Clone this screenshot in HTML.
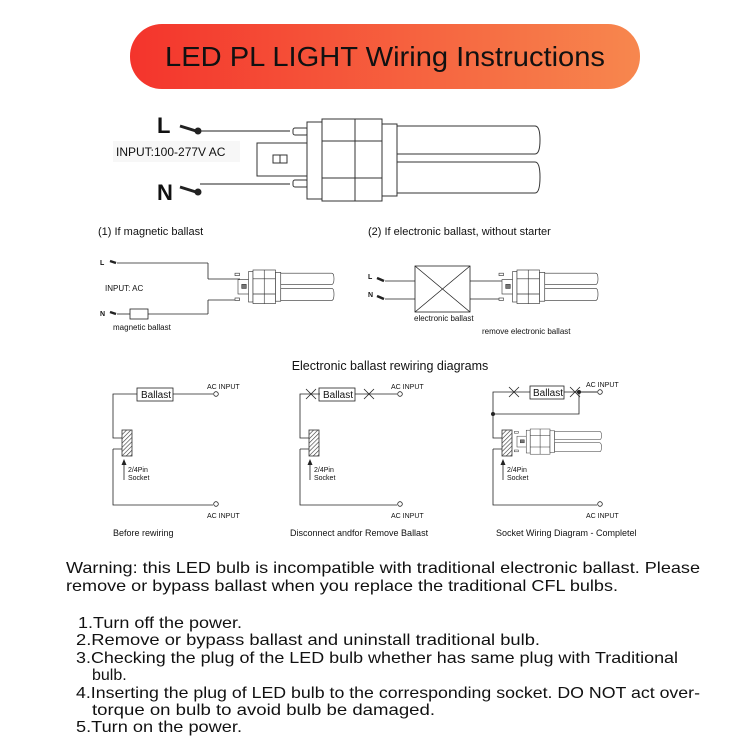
<!DOCTYPE html>
<html><head><meta charset="utf-8"><style>
html,body{margin:0;padding:0;background:#fff}
svg{display:block}
text{font-family:"Liberation Sans",Arial,sans-serif;fill:#111}
</style></head><body>
<svg width="750" height="750" viewBox="0 0 750 750" xmlns="http://www.w3.org/2000/svg">
<defs>
<linearGradient id="g" x1="0" x2="1" y1="0" y2="0"><stop offset="0" stop-color="#f4342c"/><stop offset="1" stop-color="#f7874e"/></linearGradient>
<pattern id="h" width="3" height="3" patternUnits="userSpaceOnUse" patternTransform="rotate(45)"><line x1="0" y1="0" x2="0" y2="3" stroke="#333" stroke-width="1.2"/></pattern>
<g id="bulb" fill="#fff" stroke="#333" stroke-width="0.8">
 <rect x="0" y="12" width="16" height="18"/>
 <rect x="-4" y="4" width="6" height="3"/><rect x="-4" y="35" width="6" height="3"/>
 <rect x="14" y="2" width="6" height="38"/>
 <rect x="20" y="0" width="30" height="42"/>
 <line x1="35" y1="0" x2="35" y2="42"/><line x1="20" y1="11" x2="50" y2="11"/><line x1="20" y1="30" x2="50" y2="30"/>
 <rect x="50" y="3" width="7" height="36"/>
 <path d="M57 4 H125 Q128 4 128 11 Q128 18 125 18 H57 Z"/>
 <path d="M57 23 H125 Q128 23 128 30 Q128 38 125 38 H57 Z"/>
 <rect x="5" y="18" width="6" height="5" fill="#777"/>
</g>
<g id="sock"><rect x="0" y="0" width="10" height="26" fill="url(#h)" stroke="#333" stroke-width="0.8"/></g>
</defs>

<rect x="130" y="24" width="510" height="65" rx="32" fill="url(#g)"/>
<text x="385" y="66" font-size="28" text-anchor="middle" textLength="440" lengthAdjust="spacingAndGlyphs">LED PL LIGHT Wiring Instructions</text>

<g stroke="#222" stroke-width="1" fill="none">
<text x="157" y="133" font-size="22" font-weight="bold" stroke="none">L</text>
<text x="157" y="200" font-size="22" font-weight="bold" stroke="none">N</text>
<path d="M180 126 L196 131" stroke-width="3"/><circle cx="198" cy="131" r="3" fill="#222"/>
<path d="M180 187 L196 192" stroke-width="3"/><circle cx="198" cy="192" r="3" fill="#222"/>
<line x1="200" y1="131" x2="290" y2="131"/><line x1="200" y1="184" x2="290" y2="184"/>
<rect x="113" y="141" width="127" height="21" fill="#f7f7f7" stroke="none"/>
</g>
<text x="116" y="156" font-size="12">INPUT:100-277V AC</text>
<g fill="#fff" stroke="#333" stroke-width="1">
 <rect x="257" y="143" width="50" height="33"/>
 <rect x="293" y="128" width="15" height="7" rx="2"/><rect x="293" y="180" width="15" height="7" rx="2"/>
 <rect x="307" y="122" width="15" height="77"/>
 <rect x="322" y="119" width="60" height="82"/>
 <line x1="355" y1="119" x2="355" y2="201"/><line x1="322" y1="141" x2="382" y2="141"/><line x1="322" y1="178" x2="382" y2="178"/>
 <rect x="382" y="124" width="15" height="72"/>
 <path d="M397 126 H535 Q540 126 540 140 Q540 154 535 154 H397 Z"/>
 <path d="M397 162 H535 Q540 162 540 177 Q540 193 535 193 H397 Z"/>
 <rect x="273" y="155" width="14" height="8" fill="#fff"/><line x1="280" y1="155" x2="280" y2="163"/>
</g>

<text x="98" y="235" font-size="11">(1) If magnetic ballast</text>
<text x="368" y="235" font-size="11">(2) If electronic ballast, without starter</text>
<g stroke="#222" stroke-width="0.8" fill="none">
 <text x="100" y="265" font-size="7" stroke="none" font-weight="bold">L</text>
 <path d="M110 261 L116 263" stroke-width="2.5"/>
 <line x1="117" y1="263" x2="208" y2="263"/><line x1="208" y1="263" x2="208" y2="279"/><line x1="208" y1="279" x2="240" y2="279"/>
 <text x="100" y="316" font-size="7" stroke="none" font-weight="bold">N</text>
 <path d="M110 312 L116 314" stroke-width="2.5"/>
 <line x1="117" y1="314" x2="130" y2="314"/><rect x="130" y="309" width="18" height="10"/>
 <line x1="148" y1="314" x2="208" y2="314"/><line x1="208" y1="314" x2="208" y2="300"/><line x1="208" y1="300" x2="240" y2="300"/>
 <text x="368" y="279" font-size="7" stroke="none" font-weight="bold">L</text>
 <path d="M377 278 L384 281" stroke-width="2.5"/><line x1="385" y1="281" x2="415" y2="281"/>
 <text x="368" y="297" font-size="7" stroke="none" font-weight="bold">N</text>
 <path d="M377 296 L384 299" stroke-width="2.5"/><line x1="385" y1="299" x2="415" y2="299"/>
 <rect x="415" y="266" width="55" height="46"/><line x1="415" y1="266" x2="470" y2="312"/><line x1="470" y1="266" x2="415" y2="312"/>
 <line x1="470" y1="281" x2="503" y2="281"/><line x1="470" y1="299" x2="503" y2="299"/>
</g>
<text x="105" y="291" font-size="8">INPUT: AC</text>
<text x="113" y="330" font-size="8">magnetic ballast</text>
<text x="414" y="321" font-size="8">electronic ballast</text>
<text x="482" y="334" font-size="8">remove electronic ballast</text>
<use href="#bulb" transform="translate(238,270) scale(0.75,0.8)"/>
<use href="#bulb" transform="translate(502,270) scale(0.75,0.8)"/>

<text x="390" y="370" font-size="12.5" text-anchor="middle">Electronic ballast rewiring diagrams</text>

<g stroke="#222" stroke-width="0.8" fill="none">
 <path d="M137 394 H113 V438 H122 M113 449 H122 M113 449 V505 H213"/>
 <rect x="137" y="388" width="36" height="13"/><line x1="173" y1="394" x2="213" y2="394"/>
 <circle cx="216" cy="394" r="2.3"/><circle cx="216" cy="504" r="2.3"/>
 <line x1="124" y1="480" x2="124" y2="464"/>
 <path d="M320 394 H300 V438 H309 M300 449 H309 M300 449 V505 H397"/>
 <rect x="319" y="388" width="36" height="13"/><line x1="355" y1="394" x2="397" y2="394"/>
 <path d="M306 389 L316 399 M316 389 L306 399 M364 389 L374 399 M374 389 L364 399"/>
 <circle cx="400" cy="394" r="2.3"/><circle cx="400" cy="504" r="2.3"/>
 <line x1="310" y1="480" x2="310" y2="464"/>
 <path d="M530 392 H493 V438 H502 M493 449 H502 M493 449 V505 H597"/>
 <path d="M493 414 H579 V392 H597"/>
 <rect x="530" y="386" width="34" height="13"/><line x1="564" y1="392" x2="597" y2="392"/>
 <path d="M509 387 L519 397 M519 387 L509 397 M570 387 L580 397 M580 387 L570 397"/>
 <circle cx="600" cy="392" r="2.3"/><circle cx="600" cy="504" r="2.3"/>
 <line x1="503" y1="480" x2="503" y2="464"/>
</g>
<g fill="#222"><circle cx="579" cy="392" r="2"/><circle cx="493" cy="414" r="2"/>
<path d="M121.5 465 L124 459 L126.5 465Z"/><path d="M307.5 465 L310 459 L312.5 465Z"/><path d="M500.5 465 L503 459 L505.5 465Z"/></g>
<use href="#sock" x="122" y="430"/><use href="#sock" x="309" y="430"/><use href="#sock" x="502" y="430"/>
<use href="#bulb" transform="translate(517,429) scale(0.66,0.6)"/>
<g font-size="7">
<text x="141" y="398" font-size="10">Ballast</text><text x="323" y="398" font-size="10">Ballast</text><text x="533" y="396" font-size="10">Ballast</text>
<text x="207" y="389">AC INPUT</text><text x="207" y="518">AC INPUT</text>
<text x="391" y="389">AC INPUT</text><text x="391" y="518">AC INPUT</text>
<text x="586" y="387">AC INPUT</text><text x="586" y="518">AC INPUT</text>
<text x="128" y="472">2/4Pin</text><text x="128" y="480">Socket</text>
<text x="314" y="472">2/4Pin</text><text x="314" y="480">Socket</text>
<text x="507" y="472">2/4Pin</text><text x="507" y="480">Socket</text>
</g>
<text x="113" y="536" font-size="9">Before rewiring</text>
<text x="290" y="536" font-size="9">Disconnect andfor Remove Ballast</text>
<text x="496" y="536" font-size="9">Socket Wiring Diagram - Completel</text>

<g font-size="16">
<text x="66" y="573" textLength="634" lengthAdjust="spacingAndGlyphs">Warning: this LED bulb is incompatible with traditional electronic ballast. Please</text>
<text x="66" y="591" textLength="552" lengthAdjust="spacingAndGlyphs">remove or bypass ballast when you replace the traditional CFL bulbs.</text>
<text x="78" y="628" textLength="164" lengthAdjust="spacingAndGlyphs">1.Turn off the power.</text>
<text x="76" y="645" textLength="464" lengthAdjust="spacingAndGlyphs">2.Remove or bypass ballast and uninstall traditional bulb.</text>
<text x="76" y="663" textLength="602" lengthAdjust="spacingAndGlyphs">3.Checking the plug of the LED bulb whether has same plug with Traditional</text>
<text x="92" y="680">bulb.</text>
<text x="76" y="698" textLength="624" lengthAdjust="spacingAndGlyphs">4.Inserting the plug of LED bulb to the corresponding socket. DO NOT act over-</text>
<text x="92" y="715" textLength="343" lengthAdjust="spacingAndGlyphs">torque on bulb to avoid bulb be damaged.</text>
<text x="76" y="732" textLength="166" lengthAdjust="spacingAndGlyphs">5.Turn on the power.</text>
</g>
</svg>
</body></html>
